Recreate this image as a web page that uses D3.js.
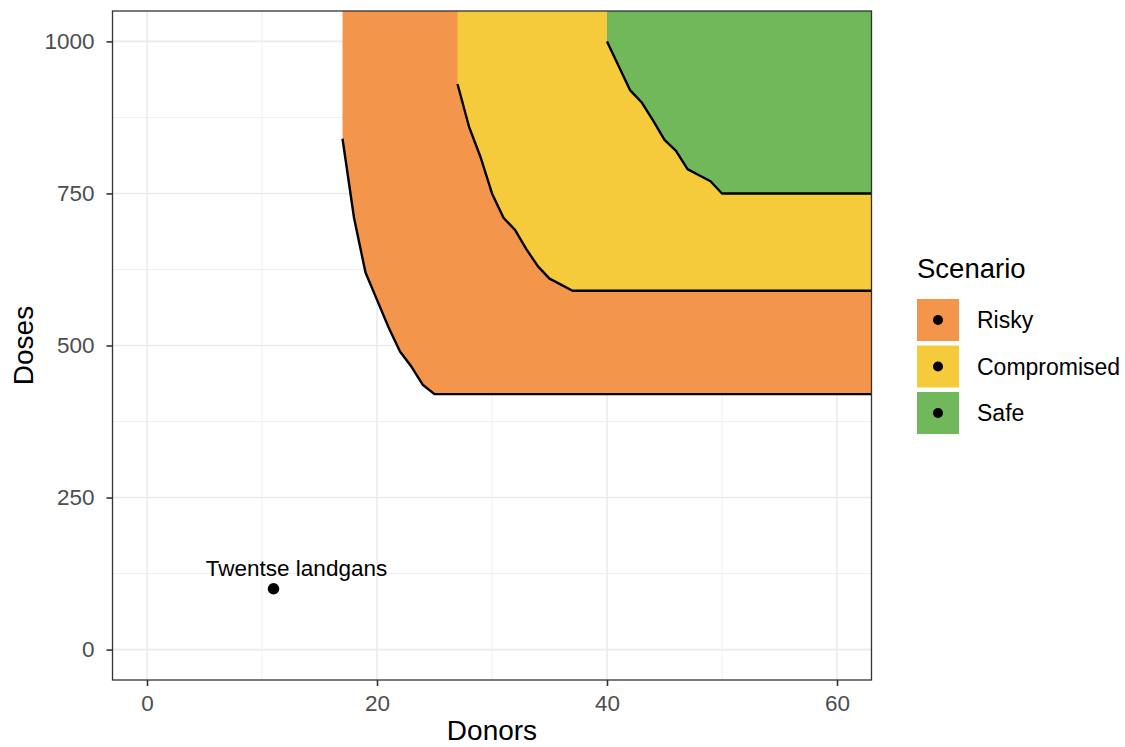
<!DOCTYPE html>
<html><head><meta charset="utf-8">
<script src="https://cdn.jsdelivr.net/npm/d3@7"></script>
<style>
body{margin:0;background:#fff}
text{font-family:"Liberation Sans",Arial,Helvetica,sans-serif}
</style>
</head><body>
<svg id="c" width="1125" height="747"></svg>
<script>
// ---- data ----
const scenarios = ["Risky", "Compromised", "Safe"];
const scenarioColors = ["#f4954c", "#f5cb3c", "#71b85a"];

const riskyDonors = [17, 18, 19, 20, 21, 22, 23, 24, 25];
const riskyDoses  = [840, 710, 620, 575, 530, 490, 465, 435, 420];

const compromisedDonors = [27, 28, 29, 30, 31, 32, 33, 34, 35, 36, 37];
const compromisedDoses  = [930, 860, 810, 750, 710, 690, 658, 630, 610, 600, 590];

const safeDonors = [40, 41, 42, 43, 44, 45, 46, 47, 48, 49, 50];
const safeDoses  = [1000, 960, 920, 900, 870, 838, 820, 790, 780, 770, 750];

const breedNames  = ["Twentse landgans"];
const breedDonors = [11];
const breedDoses  = [100];
const labelDonors = [13];
const labelDoses  = [121];

const xTicks = [0, 20, 40, 60];
const yTicks = [0, 250, 500, 750, 1000];
const xMinor = [10, 30, 50];
const yMinor = [125, 375, 625, 875];

const xDomain = [-3, 63];
const yDomain = [-50, 1050];

// ---- layout ----
const P = {left: 112.5, right: 871.5, top: 11, bottom: 680};
const svg = d3.select("#c");
const x = d3.scaleLinear().domain(xDomain).range([P.left, P.right]);
const y = d3.scaleLinear().domain(yDomain).range([P.bottom, P.top]);

svg.append("defs").append("clipPath").attr("id", "panel")
  .append("rect").attr("x", P.left).attr("y", P.top)
  .attr("width", P.right - P.left).attr("height", P.bottom - P.top);

// grid
const grid = svg.append("g");
grid.selectAll(".vmin").data(xMinor).join("line")
  .attr("x1", d => x(d)).attr("x2", d => x(d)).attr("y1", P.top).attr("y2", P.bottom)
  .attr("stroke", "#ebebeb").attr("stroke-width", 0.8);
grid.selectAll(".hmin").data(yMinor).join("line")
  .attr("y1", d => y(d)).attr("y2", d => y(d)).attr("x1", P.left).attr("x2", P.right)
  .attr("stroke", "#ebebeb").attr("stroke-width", 0.8);
grid.selectAll(".vmaj").data(xTicks).join("line")
  .attr("x1", d => x(d)).attr("x2", d => x(d)).attr("y1", P.top).attr("y2", P.bottom)
  .attr("stroke", "#ebebeb").attr("stroke-width", 1.6);
grid.selectAll(".hmaj").data(yTicks).join("line")
  .attr("y1", d => y(d)).attr("y2", d => y(d)).attr("x1", P.left).attr("x2", P.right)
  .attr("stroke", "#ebebeb").attr("stroke-width", 1.6);

// regions
const curves = [
  {name: "Risky", donors: riskyDonors, doses: riskyDoses},
  {name: "Compromised", donors: compromisedDonors, doses: compromisedDoses},
  {name: "Safe", donors: safeDonors, doses: safeDoses}
];
const color = d3.scaleOrdinal().domain(scenarios).range(scenarioColors);
const farX = xDomain[1] + 10, farY = yDomain[1] + 100;

const plot = svg.append("g").attr("clip-path", "url(#panel)");
curves.forEach(c => {
  const pts = c.donors.map((d, i) => [d, c.doses[i]]);
  const last = pts[pts.length - 1];
  const poly = pts.concat([[farX, last[1]], [farX, farY], [pts[0][0], farY]]);
  plot.append("path")
    .attr("d", d3.line().x(p => x(p[0])).y(p => y(p[1]))(poly) + "Z")
    .attr("fill", color(c.name));
});
curves.forEach(c => {
  const pts = c.donors.map((d, i) => [d, c.doses[i]]);
  const last = pts[pts.length - 1];
  const ln = pts.concat([[farX, last[1]]]);
  plot.append("path")
    .attr("d", d3.line().x(p => x(p[0])).y(p => y(p[1]))(ln))
    .attr("fill", "none").attr("stroke", "#000").attr("stroke-width", 2.4)
    .attr("stroke-linejoin", "round");
});

// breed point + label
plot.selectAll(".pt").data(breedNames).join("circle")
  .attr("cx", (d, i) => x(breedDonors[i])).attr("cy", (d, i) => y(breedDoses[i]))
  .attr("r", 5.8).attr("fill", "#000");
svg.selectAll(".lbl").data(breedNames).join("text")
  .attr("x", (d, i) => x(labelDonors[i])).attr("y", (d, i) => y(labelDoses[i]))
  .attr("text-anchor", "middle").attr("font-size", 22.5).attr("fill", "#000")
  .text(d => d);

// border
svg.append("rect").attr("x", P.left).attr("y", P.top)
  .attr("width", P.right - P.left).attr("height", P.bottom - P.top)
  .attr("fill", "none").attr("stroke", "#333").attr("stroke-width", 1.3);

// axes
const xa = svg.append("g").attr("transform", `translate(0,${P.bottom})`)
  .call(d3.axisBottom(x).tickValues(xTicks).tickSize(6).tickPadding(9).tickFormat(d3.format("d")));
const ya = svg.append("g").attr("transform", `translate(${P.left},0)`)
  .call(d3.axisLeft(y).tickValues(yTicks).tickSize(6).tickPadding(12).tickFormat(d3.format("d")));
[xa, ya].forEach(a => {
  a.select(".domain").remove();
  a.selectAll(".tick line").attr("stroke", "#333").attr("stroke-width", 1.6);
  a.selectAll(".tick text").attr("fill", "#4d4d4d").attr("font-size", 22.5)
    .attr("font-family", "'Liberation Sans',Arial,sans-serif");
});

// axis titles
svg.append("text").attr("x", (P.left + P.right) / 2).attr("y", 740)
  .attr("text-anchor", "middle").attr("font-size", 28).attr("fill", "#000").text("Donors");
svg.append("text").attr("transform", `translate(33,${(P.top + P.bottom) / 2}) rotate(-90)`)
  .attr("text-anchor", "middle").attr("font-size", 28).attr("fill", "#000").text("Doses");

// legend
const lg = svg.append("g");
lg.append("text").attr("x", 917).attr("y", 278).attr("font-size", 27.5).attr("fill", "#000").text("Scenario");
const keyY = d3.scalePoint().domain(scenarios).range([320, 413]);
const keys = lg.selectAll(".key").data(scenarios).join("g")
  .attr("transform", d => `translate(917,${keyY(d) - 21})`);
keys.append("rect").attr("width", 42).attr("height", 42).attr("fill", d => color(d));
keys.append("circle").attr("cx", 21).attr("cy", 21).attr("r", 5).attr("fill", "#000");
keys.append("text").attr("x", 60).attr("y", 21).attr("dy", "0.36em")
  .attr("font-size", 23).attr("fill", "#000").text(d => d);
</script>
</body></html>
